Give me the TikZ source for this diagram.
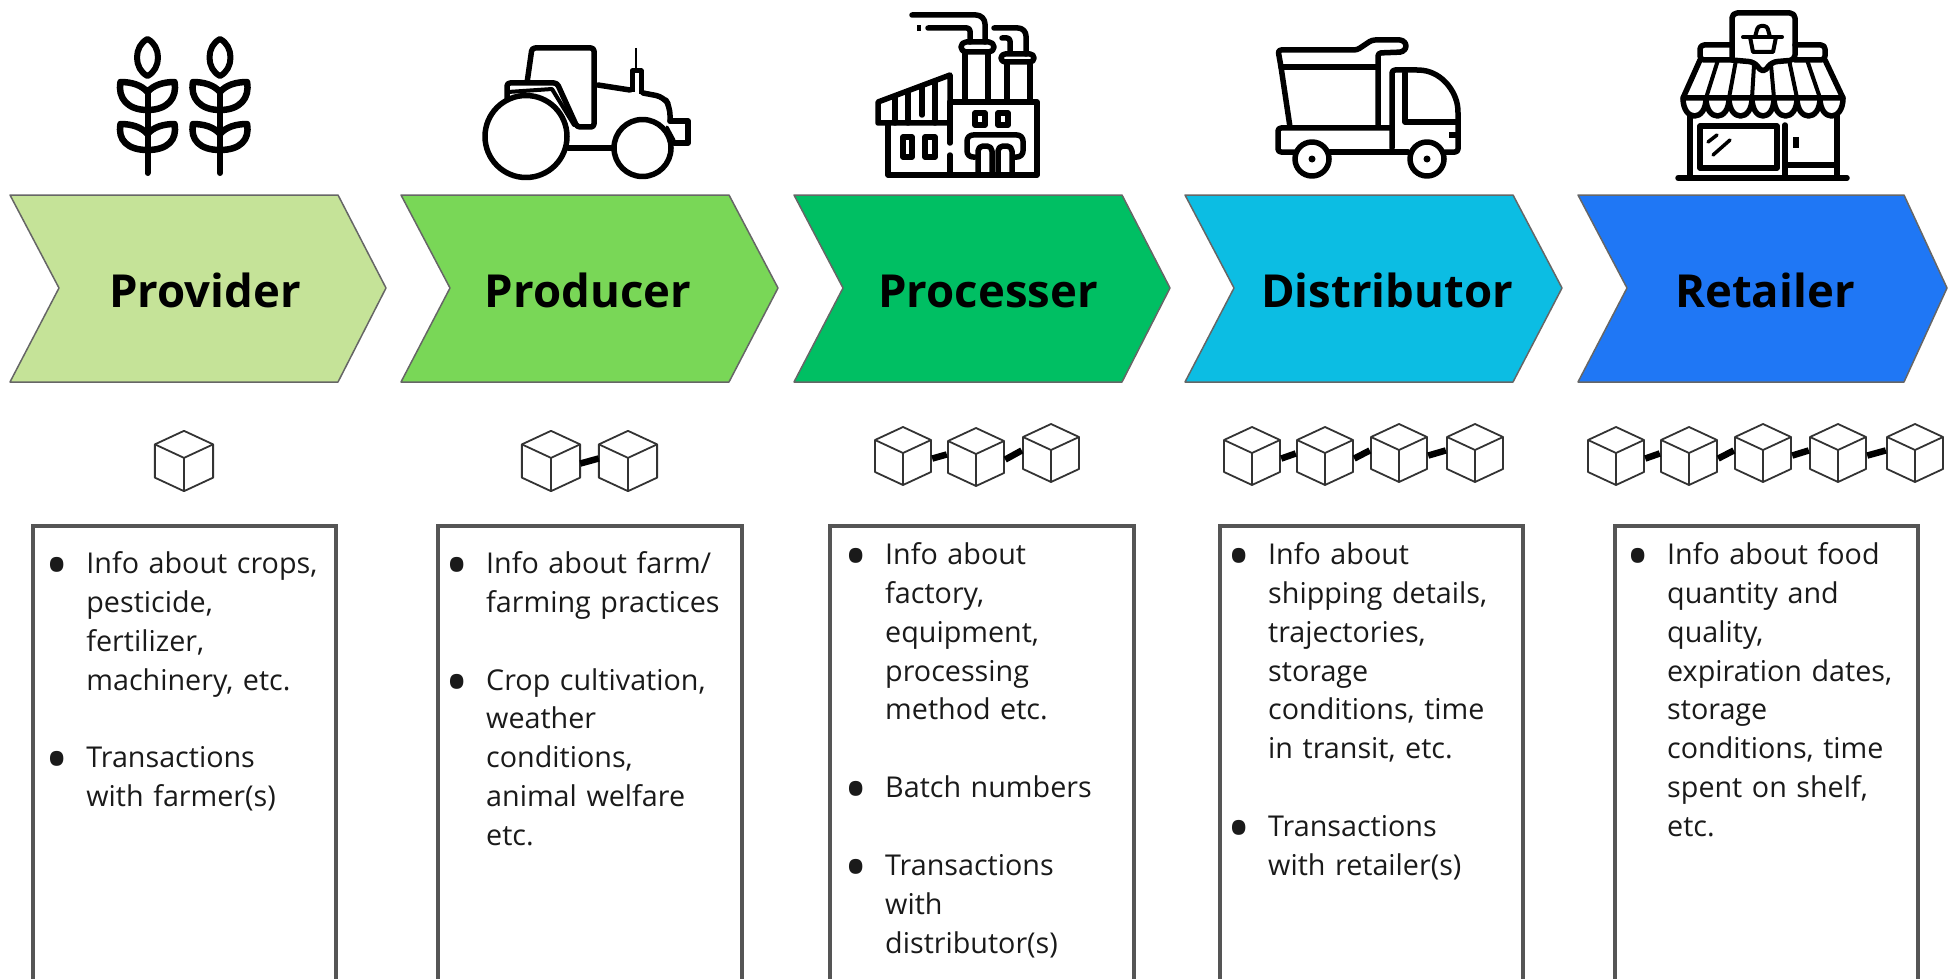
\documentclass[tikz,border=0pt]{standalone}
\usepackage{fontspec}
\setmainfont{Open Sans}
\usetikzlibrary{positioning}

\definecolor{providergreen}{HTML}{C5E398}
\definecolor{producergreen}{HTML}{79D757}
\definecolor{processergreen}{HTML}{00BF63}
\definecolor{distributorblue}{HTML}{0CBDE3}
\definecolor{retailerblue}{HTML}{1F77F5}
\definecolor{boxgray}{HTML}{555555}
\definecolor{inktext}{HTML}{1A1A1A}

\newenvironment{infolist}{\begin{list}{\smash{\raisebox{-14pt}{\fontsize{62}{62}\selectfont\textbullet}}}{%
        \setlength{\leftmargin}{40.6pt}\setlength{\labelsep}{0pt}\setlength{\labelwidth}{40.6pt}%
        \setlength{\topsep}{0pt}\setlength{\partopsep}{0pt}\setlength{\parsep}{0pt}%
        \setlength{\itemsep}{38.95pt}\setlength{\rightmargin}{0pt}%
        \renewcommand{\makelabel}[1]{##1\hfil}}}{\end{list}}

\tikzset{
        icon/.style={line width=5.5pt,line join=round,line cap=round},
        chevron/.style={draw=black!60,line width=1.5pt,line join=round},
        stage/.style={anchor=base,inner sep=0pt,font=\fontsize{45.5}{50}\selectfont\bfseries,text=black},
        infobox/.style={draw=boxgray,line width=4.5pt},
        infotext/.style={anchor=north west,inner sep=0pt,text width=280pt,align=left,text=inktext,font=\fontsize{28.7}{38.95}\selectfont},
        cubeline/.style={draw=black!80,line width=1.8pt,line join=round},
        chainlink/.style={line width=6.5pt,black},
        wheat/.pic={
                \draw[icon,line width=6pt] (0,39) .. controls (-14,46) and (-14,69) .. (0,76) .. controls (14,69) and (14,46) .. (0,39) -- cycle;
                \draw[icon,line width=6pt] (0,92) -- (0,173);
                \draw[icon,line width=6.5pt] (0,92) .. controls (-6,85) and (-16,82) .. (-27,82) .. controls (-30,98) and (-20,110) .. (0,110) .. controls (20,110) and (30,98) .. (27,82) .. controls (16,82) and (6,85) .. (0,92);
                \draw[icon,line width=6.5pt] (0,134) .. controls (-6,127) and (-16,124) .. (-27,124) .. controls (-30,140) and (-20,150) .. (0,150) .. controls (20,150) and (30,140) .. (27,124) .. controls (16,124) and (6,127) .. (0,134);
        },
        cube/.pic={
                \node[inner sep=0pt,minimum size=58pt] (-box) {};
                \draw[cubeline] (0,-29) -- (28,-16) -- (28,16) -- (0,29) -- (-28,16) -- (-28,-16) -- cycle;
                \draw[cubeline] (-28,-16) -- (0,-3) -- (28,-16);
                \draw[cubeline] (0,-3) -- (0,29);
        }
}

\begin{document}
\begin{tikzpicture}[x=1pt,y=-1pt]
        \useasboundingbox (0,0) rectangle (1948,979);

        \draw[chevron,fill=providergreen] (10,195) -- (338,195) -- (386,288) -- (338,382) -- (10,382) -- (59,288) -- cycle;
        \draw[chevron,fill=producergreen] (401,195) -- (729,195) -- (778,288) -- (729,382) -- (401,382) -- (450,288) -- cycle;
        \draw[chevron,fill=processergreen] (794,195) -- (1122,195) -- (1170,288) -- (1122,382) -- (794,382) -- (843,288) -- cycle;
        \draw[chevron,fill=distributorblue] (1185,195) -- (1513,195) -- (1562,288) -- (1513,382) -- (1185,382) -- (1234,288) -- cycle;
        \draw[chevron,fill=retailerblue] (1578,195) -- (1904,195) -- (1947,288) -- (1904,382) -- (1578,382) -- (1627,288) -- cycle;

        \node[stage] (provider) at (205,307) {Provider};
        \node[stage] (producer) at (588,307) {Producer};
        \node[stage] (processer) at (988,307) {Processer};
        \node[stage] (distributor) at (1387,307) {Distributor};
        \node[stage] (retailer) at (1765,307) {Retailer};

        \pic at (147.5,0) {wheat};
        \pic at (220,0) {wheat};

        \draw[icon] (526,136.5) circle[radius=41];
        \draw[icon] (642.5,148) circle[radius=28.5];
        \draw[icon,rounded corners=3pt] (527,83) -- (532,48) -- (594,48) -- (594,127) -- (577,127) -- (557,83) -- (507,83) -- (507,98);
        \draw[icon,line width=4pt] (508,92) -- (552,89) -- (574,125);
        \draw[icon] (598,85) -- (630,90);
        \draw[icon,rounded corners=8pt] (643,93) -- (664,97) -- (670,107) -- (670,121);
        \draw[icon,line width=5pt,line cap=butt] (632,92) -- (632,71) -- (641,71) -- (641,94);
        \draw[line width=2.5pt] (636,48) -- (636,70);
        \draw[icon] (568,148) -- (612,148);
        \draw[icon] (670,121) -- (688,121) -- (688,143) -- (674,143);
        \draw[icon,line width=3pt] (667,127) -- (674,140);

        \draw[icon] (878,102) -- (950,75) -- (950,123) -- (878,123) -- cycle;
        \draw[icon] (895,97) -- (895,123); \draw[icon] (908,92) -- (908,123); \draw[icon] (922,87) -- (922,115); \draw[icon] (935,81) -- (935,123);
        \draw[icon] (888,125) -- (888,175) -- (1037,175) -- (1037,102) -- (950,102);
        \draw[icon] (950,102) -- (950,143); \draw[icon] (950,155) -- (950,175);
        \draw[icon] (903,137) rectangle (912,157); \draw[icon] (925,137) rectangle (935,157);
        \draw[icon] (975,113) rectangle (985,125); \draw[icon] (998,113) rectangle (1008,125);
        \draw[icon] (965,102) -- (965,52); \draw[icon] (988,102) -- (988,52);
        \draw[icon,rounded corners=5pt] (961,42) rectangle (994,52);
        \draw[icon] (1007,102) -- (1007,62); \draw[icon] (1030,102) -- (1030,62);
        \draw[icon,rounded corners=4pt] (1001,54) rectangle (1034,62);
        \draw[icon,rounded corners=9pt] (985,42) -- (985,15) -- (912,15);
        \draw[icon,rounded corners=3pt] (970,42) -- (970,28) -- (928,28);
        \draw[icon,line cap=butt] (917,28) -- (921,28);
        \draw[icon,rounded corners=8pt] (1026,54) -- (1026,28) -- (994,28);
        \draw[icon,rounded corners=3pt] (1010,52) -- (1010,38) -- (1002,38);
        \draw[icon,rounded corners=6pt] (975,157) -- (967,157) -- (967,135) -- (1023,135) -- (1023,157) -- (1013,157);
        \draw[icon,rounded corners=5pt] (978,175) -- (978,146) -- (992,146) -- (992,175);
        \draw[icon,rounded corners=5pt] (998,175) -- (998,146) -- (1012,146) -- (1012,175);

        \draw[icon,rounded corners=3pt] (1290,127) -- (1281,67) -- (1278,50) -- (1357,50) -- (1372,40) -- (1403,40) -- (1407,46) -- (1403,52) -- (1378,53) -- (1378,127);
        \draw[icon] (1281,67) -- (1378,67);
        \draw[icon,rounded corners=3pt] (1392,128) -- (1278,128) -- (1278,152) -- (1295,152);
        \draw[icon] (1330,152) -- (1408,152);
        \draw[icon,rounded corners=3pt] (1392,148) -- (1392,70) -- (1420,70) .. controls (1443,73) and (1456,92) .. (1458,110) -- (1458,152) -- (1445,152);
        \draw[icon] (1405,73) -- (1405,122) -- (1458,122);
        \draw[icon,line cap=butt] (1449,135) -- (1458,135);
        \draw[icon] (1312,159) circle[radius=17];
        \draw[icon] (1427,159) circle[radius=17];
        \fill (1312,159) circle[radius=3.5];
        \fill (1427,159) circle[radius=3.5];

        \draw[icon,rounded corners=5pt] (1732,60) -- (1732,13) -- (1795,13) -- (1795,60) -- (1772,62) -- (1763,73) -- (1754,62) -- (1732,60);
        \draw[icon,line width=4pt] (1743,37) -- (1782,37);
        \draw[icon,line width=4pt] (1750,37) -- (1753,52) -- (1773,52) -- (1776,37);
        \draw[icon,line width=4pt,rounded corners=3pt] (1755,37) -- (1758,26) -- (1767,26) -- (1770,37);
        \draw[icon,rounded corners=4pt] (1732,60) -- (1700,60) -- (1700,45) -- (1732,45);
        \draw[icon,rounded corners=4pt] (1795,60) -- (1825,60) -- (1825,45) -- (1795,45);
        \draw[icon] (1700,60) -- (1683,98) -- (1843,98) -- (1825,60);
        \draw[icon] (1683,98) .. controls (1683,122) and (1706,122) .. (1706,98) .. controls (1706,122) and (1729,122) .. (1729,98) .. controls (1729,122) and (1752,122) .. (1752,98) .. controls (1752,122) and (1774,122) .. (1774,98) .. controls (1774,122) and (1797,122) .. (1797,98) .. controls (1797,122) and (1820,122) .. (1820,98) .. controls (1820,122) and (1843,122) .. (1843,98);
        \draw[icon,line width=4pt] (1706,98) -- (1718,60); \draw[icon,line width=4pt] (1729,98) -- (1736,60); \draw[icon,line width=4pt] (1752,98) -- (1754,65);
        \draw[icon,line width=4pt] (1774,98) -- (1771,65); \draw[icon,line width=4pt] (1797,98) -- (1789,60); \draw[icon,line width=4pt] (1820,98) -- (1807,60);
        \draw[icon] (1690,115) -- (1690,178); \draw[icon] (1837,115) -- (1837,178);
        \draw[icon] (1678,178) -- (1847,178);
        \draw[icon] (1700,126) rectangle (1777,168);
        \draw[icon] (1785,125) -- (1785,178);
        \draw[icon] (1785,165) -- (1837,165);
        \draw[icon,line cap=butt] (1796,137) -- (1796,148);
        \draw[icon,line width=3.5pt] (1708,142) -- (1717,135);
        \draw[icon,line width=3.5pt] (1713,155) -- (1730,140);

        \pic[scale=1.04] (pa) at (184,461) {cube};

        \pic[scale=1.04] (pb) at (551,461) {cube};
        \pic[scale=1.04] (pc) at (628,461) {cube};
        \draw[chainlink] (pb-box.355) -- (pc-box.175);

        \pic (pd) at (903,456) {cube};
        \pic (pe) at (976,457) {cube};
        \pic (pf) at (1051,453) {cube};
        \draw[chainlink] (pd-box.355) -- (pe-box.175);
        \draw[chainlink] (pe-box.355) -- (pf-box.175);

        \pic (da) at (1252,456) {cube};
        \pic (db) at (1325,456) {cube};
        \pic (dc) at (1399,453) {cube};
        \pic (dd) at (1475,453) {cube};
        \draw[chainlink] (da-box.355) -- (db-box.175);
        \draw[chainlink] (db-box.355) -- (dc-box.175);
        \draw[chainlink] (dc-box.355) -- (dd-box.175);

        \pic (ra) at (1616,456) {cube};
        \pic (rb) at (1689,456) {cube};
        \pic (rc) at (1763,453) {cube};
        \pic (rd) at (1838,453) {cube};
        \pic (re) at (1915,453) {cube};
        \draw[chainlink] (ra-box.355) -- (rb-box.175);
        \draw[chainlink] (rb-box.355) -- (rc-box.175);
        \draw[chainlink] (rc-box.355) -- (rd-box.175);
        \draw[chainlink] (rd-box.355) -- (re-box.175);

        \draw[infobox] (33,979) -- (33,526) -- (336,526) -- (336,979);
        \draw[infobox] (438,979) -- (438,526) -- (742,526) -- (742,979);
        \draw[infobox] (830,979) -- (830,526) -- (1134,526) -- (1134,979);
        \draw[infobox] (1220,979) -- (1220,526) -- (1523,526) -- (1523,979);
        \draw[infobox] (1615,979) -- (1615,526) -- (1918,526) -- (1918,979);

        \node[infotext] (providerinfo) at (45.6,534) {\begin{infolist}
                \item Info about crops,\\pesticide,\\fertilizer,\\machinery, etc.
                \item Transactions\\with farmer(s)
        \end{infolist}};
        \node[infotext] (producerinfo) at (445.4,534) {\begin{infolist}
                \item Info about farm/\\farming practices
                \item Crop cultivation,\\weather\\conditions,\\animal welfare\\etc.
        \end{infolist}};
        \node[infotext] (processerinfo) at (844.4,525) {\begin{infolist}
                \item Info about\\factory,\\equipment,\\processing\\method etc.
                \item Batch numbers
                \item Transactions\\with\\distributor(s)
        \end{infolist}};
        \node[infotext] (distributorinfo) at (1227.4,525) {\begin{infolist}
                \item Info about\\shipping details,\\trajectories,\\storage\\conditions, time\\in transit, etc.
                \item Transactions\\with retailer(s)
        \end{infolist}};
        \node[infotext] (retailerinfo) at (1626.4,525) {\begin{infolist}
                \item Info about food\\quantity and\\quality,\\expiration dates,\\storage\\conditions, time\\spent on shelf,\\etc.
        \end{infolist}};
\end{tikzpicture}
\end{document}
